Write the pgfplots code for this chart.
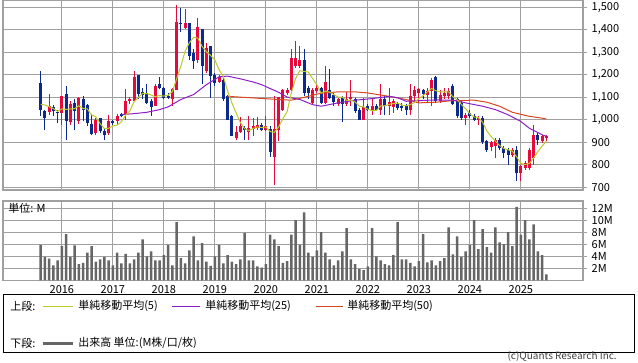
\documentclass[border=0pt]{standalone}
\usepackage{fontspec}
\setmainfont{Noto Sans CJK JP}
\usepackage{pgfplots}
\pgfplotsset{compat=1.18}
\usepackage{pgfplotstable}

\definecolor{upred}{RGB}{230,10,60}
\definecolor{downblue}{RGB}{12,42,140}
\definecolor{ma5col}{RGB}{190,200,40}
\definecolor{ma25col}{RGB}{140,30,200}
\definecolor{ma50col}{RGB}{215,70,30}
\definecolor{volgray}{RGB}{102,102,102}
\definecolor{gridgray}{RGB}{160,160,160}

\pgfplotstableread{
i O H L C
2 1033 1115 1022 1060
5 1030 1104 978 1104
7 988 1082 978 1072
9 993 1102 982 1097
13 941 1007 933 1000
16 943 1022 931 993
18 993 1025 978 1018
20 1022 1137 1000 1085
21 1085 1100 1070 1090
22 1085 1219 1082 1189
27 1063 1157 1060 1152
31 1093 1142 1060 1137
32 1134 1510 1131 1435
34 1410 1495 1405 1432
37 1265 1451 1254 1414
39 1216 1343 1209 1320
42 1167 1201 1164 1191
46 918 970 908 944
47 944 1012 941 970
49 945 1015 911 963
50 958 1007 926 973
51 963 1012 955 978
53 955 1015 948 973
55 836 1104 709 958
56 955 1100 903 1100
57 1045 1137 1037 1134
58 1119 1142 1112 1134
59 1134 1313 1127 1276
60 1239 1350 1231 1276
61 1239 1328 1231 1268
64 1075 1142 1072 1134
65 1127 1157 1119 1142
67 1075 1239 1072 1167
70 1072 1097 1060 1090
72 1072 1122 1063 1093
73 1090 1179 1063 1101
76 1000 1097 997 1057
78 1045 1093 1022 1063
80 1045 1157 1022 1093
82 1060 1142 1022 1078
83 1057 1090 1030 1082
87 1045 1157 1022 1104
88 1104 1149 1082 1134
89 1119 1142 1075 1137
91 1112 1140 1080 1130
92 1127 1186 1063 1179
94 1082 1134 1075 1112
95 1104 1142 1090 1119
96 1104 1142 1090 1127
100 1008 1030 978 1022
103 997 1015 975 1007
106 880 905 860 899
107 881 918 829 911
111 844 873 836 866
113 762 799 728 792
114 784 814 777 807
115 784 873 777 866
116 829 978 799 933
118 903 933 896 926
119 918 933 903 926
}\upcandles

\pgfplotstableread{
i O H L C
0 1164 1216 1015 1045
1 1040 1045 952 1008
3 1055 1067 1015 1037
4 1035 1045 985 1033
6 1115 1149 911 996
8 1075 1093 955 1040
10 1093 1104 993 1045
11 1067 1072 973 985
12 982 1025 933 936
14 1007 1007 940 948
15 951 958 908 933
17 993 1000 978 988
19 1027 1030 1012 1016
23 1197 1197 1090 1116
24 1122 1142 1090 1112
25 1119 1161 1072 1075
26 1082 1090 1015 1057
28 1157 1191 1137 1142
29 1142 1146 1090 1097
30 1107 1119 1090 1097
33 1432 1499 1391 1425
35 1429 1429 1264 1283
36 1298 1313 1224 1261
38 1402 1402 1157 1239
40 1328 1328 1097 1194
41 1201 1209 1149 1164
43 1179 1186 1082 1090
44 1104 1112 997 1000
45 1018 1022 926 929
48 963 970 911 956
52 978 985 948 955
54 958 973 836 854
62 1268 1313 1104 1119
63 1142 1149 1090 1119
66 1142 1145 1070 1075
68 1131 1224 1090 1097
69 1112 1119 1060 1078
71 1097 1104 990 1072
74 1093 1097 1030 1037
75 1045 1052 997 997
77 1063 1072 1037 1045
79 1063 1072 1037 1045
81 1090 1104 1022 1063
84 1072 1078 1045 1052
85 1063 1075 1037 1052
86 1060 1072 1022 1045
90 1134 1137 1090 1116
93 1191 1194 1075 1082
97 1152 1157 1067 1072
98 1090 1096 1007 1015
99 1075 1082 1000 1008
101 1030 1045 1007 1015
102 1018 1027 993 1000
104 1007 1015 893 899
105 903 911 858 866
108 911 918 866 873
109 876 881 829 851
110 866 873 799 844
112 866 881 728 762
117 933 941 888 911
}\downcandles

\pgfplotstableread{
i v
0 1068
1 1066
2 1058
3 1050
4 1037
5 1048
6 1046
7 1048
8 1049
9 1062
10 1050
11 1048
12 1021
13 1013
14 983
15 960
16 962
17 972
18 976
19 990
20 1020
21 1039
22 1080
23 1099
24 1118
25 1116
26 1110
27 1102
28 1108
29 1105
30 1109
31 1125
32 1182
33 1238
34 1305
35 1342
36 1367
37 1363
38 1326
39 1303
40 1286
41 1266
42 1222
43 1192
44 1128
45 1075
46 1031
47 987
48 960
49 952
50 961
51 968
52 965
53 968
54 947
55 944
56 968
57 1004
58 1036
59 1120
60 1184
61 1218
62 1215
63 1212
64 1183
65 1156
66 1118
67 1127
68 1123
69 1112
70 1101
71 1101
72 1086
73 1087
74 1079
75 1060
76 1057
77 1047
78 1040
79 1041
80 1061
81 1062
82 1068
83 1072
84 1074
85 1065
86 1062
87 1067
88 1077
89 1094
90 1107
91 1124
92 1139
93 1129
94 1124
95 1124
96 1124
97 1102
98 1089
99 1068
100 1049
101 1026
102 1012
103 1010
104 989
105 950
106 925
107 905
108 885
109 872
110 866
111 860
112 835
113 805
114 800
115 805
116 830
117 858
118 882
119 905
}\maf

\pgfplotstableread{
i v
19 1023
22 1027
25 1033
28 1045
30 1057
33 1090
36 1112
39 1156
42 1191
44 1194
47 1182
50 1168
52 1156
56 1122
58 1101
61 1090
64 1067
66 1060
70 1075
74 1087
78 1094
82 1104
84 1098
86 1082
89 1085
93 1088
97 1087
100 1075
104 1060
107 1045
110 1022
113 992
115 962
118 933
119 926
}\matf

\pgfplotstableread{
i v
44 1104
50 1097
56 1090
59 1087
61 1095
66 1118
70 1124
74 1124
77 1119
82 1104
86 1090
89 1075
93 1078
97 1085
102 1087
105 1078
108 1060
111 1033
115 1015
118 1007
119 1003
}\mafifty

\pgfplotstableread{
i v
0 5.9
1 3.9
2 3.6
3 2.5
4 3.3
5 5.7
6 7.7
7 3.9
8 5.8
9 2.7
10 2.9
11 4.6
12 5.7
13 3.1
14 3.5
15 3.9
16 3.3
17 2.5
18 4.6
19 2.8
20 4.4
21 2.8
22 3.5
23 4.6
24 6.8
25 4.0
26 4.8
27 3.3
28 3.3
29 4.2
30 5.9
31 2.5
32 9.7
33 3.7
34 2.8
35 5.0
36 7.3
37 3.3
38 6.2
39 3.1
40 2.4
41 4.0
42 5.9
43 2.8
44 4.2
45 3.1
46 2.7
47 3.5
48 7.9
49 3.3
50 3.3
51 2.3
52 2.1
53 2.7
54 7.6
55 6.8
56 5.7
57 2.9
58 3.2
59 7.6
60 10.0
61 5.9
62 11.3
63 4.6
64 3.9
65 5.0
66 8.0
67 4.6
68 3.5
69 2.5
70 3.3
71 4.8
72 8.7
73 3.5
74 2.7
75 1.9
76 1.7
77 2.3
78 8.7
79 4.0
80 3.3
81 2.7
82 2.5
83 4.2
84 9.7
85 3.5
86 3.5
87 2.9
88 2.3
89 3.2
90 7.7
91 3.0
92 3.3
93 2.5
94 3.2
95 3.7
96 8.8
97 4.3
98 7.3
99 3.9
100 4.8
101 5.9
102 10.0
103 5.2
104 8.5
105 5.5
106 4.6
107 8.8
108 6.3
109 6.0
110 8.0
111 5.7
112 12.2
113 7.6
114 10.0
115 6.8
116 9.3
117 4.8
118 4.2
119 1.0
}\vol

\pgfplotsset{
  panel/.style={
    scale only axis, width=435pt, anchor=south west,
    xmin=-8.85, xmax=127.62,
    xtick={5,17,29,41,53,65,77,89,101,113},
    grid=major,
    major grid style={draw=gridgray, line width=0.7pt},
    axis line style={draw=gridgray, line width=0.8pt},
    ytick pos=right,
    tick align=outside,
    xtick style={draw=none},
    ytick style={draw=gridgray, line width=0.7pt},
    major tick length=3pt,
    tick label style={font=\fontsize{8.25}{9.5}\selectfont, text=black},
    yticklabel style={anchor=west},
    /pgf/number format/assume math mode=true,
    /pgf/number format/1000 sep={,},
  },
  wick/.style={draw=none, mark=none, forget plot,
    error bars/.cd, y dir=both, y explicit, error mark=none,
    error bar style={draw=#1, line width=0.75pt, line cap=butt}},
  body/.style={draw=none, mark=none, forget plot,
    error bars/.cd, y dir=both, y explicit, error mark=none,
    error bar style={draw=#1, line width=2.3pt, line cap=butt}},
}

\begin{document}
\begin{tikzpicture}
\path[use as bounding box] (0,0) rectangle (478.5pt,271.5pt);

% price panel
\begin{axis}[panel, at={(2.25pt,129pt)}, height=142.5pt,
  ymin=687, ymax=1533, ytick={700,800,...,1500}, xticklabels={}]
\addplot[wick=upred] table[x=i, y expr={(\thisrow{H}+\thisrow{L})/2}, y error expr={(\thisrow{H}-\thisrow{L})/2}] {\upcandles};
\addplot[wick=downblue] table[x=i, y expr={(\thisrow{H}+\thisrow{L})/2}, y error expr={(\thisrow{H}-\thisrow{L})/2}] {\downcandles};
\addplot[body=upred] table[x=i, y expr={(\thisrow{O}+\thisrow{C})/2}, y error expr={max(abs(\thisrow{C}-\thisrow{O})/2,2.5)}] {\upcandles};
\addplot[body=downblue] table[x=i, y expr={(\thisrow{O}+\thisrow{C})/2}, y error expr={max(abs(\thisrow{C}-\thisrow{O})/2,2.5)}] {\downcandles};
\addplot[ma50col, line width=0.75pt, mark=none] table[x=i, y=v] {\mafifty};
\addplot[ma25col, line width=0.75pt, mark=none] table[x=i, y=v] {\matf};
\addplot[ma5col, line width=0.75pt, mark=none] table[x=i, y=v] {\maf};
\end{axis}

% volume panel
\begin{axis}[panel, at={(2.25pt,61.275pt)}, height=59.5pt,
  ymin=0, ymax=13.2, ytick={2,4,6,8,10,12},
  yticklabels={2M,4M,6M,8M,10M,12M},
  xticklabel style={yshift=2.5pt},
  xticklabels={2016,2017,2018,2019,2020,2021,2022,2023,2024,2025}]
\addplot[ybar, bar width=2.0pt, fill=volgray, draw=none] table[x=i, y=v] {\vol};
\end{axis}
\node[anchor=west, font=\fontsize{8.25}{9.5}\selectfont, inner sep=0pt] at (6pt,115.5pt) {単位: M};

% legend box
\draw[black, line width=0.75pt] (2.25pt,7.5pt) rectangle (475.5pt,51pt);
\begin{scope}[every node/.style={anchor=west, font=\fontsize{8.25}{9.5}\selectfont, inner sep=0pt}]
\node at (7.5pt,42pt) {上段:};
\draw[ma5col, line width=0.75pt] (32.25pt,42pt) -- (54.75pt,42pt);
\node at (58.5pt,42pt) {単純移動平均(5)};
\draw[ma25col, line width=0.75pt] (129pt,42pt) -- (150pt,42pt);
\node at (153.75pt,42pt) {単純移動平均(25)};
\draw[ma50col, line width=0.75pt] (237pt,42pt) -- (257.25pt,42pt);
\node at (260.25pt,42pt) {単純移動平均(50)};
\node at (7.5pt,14.25pt) {下段:};
\draw[volgray, line width=2.25pt] (32.25pt,14.25pt) -- (54.75pt,14.25pt);
\node at (58.5pt,14.25pt) {出来高 単位:(M株/口/枚)};
\end{scope}
\node[anchor=east, font=\fontsize{7.5}{8.5}\selectfont, text=black!75, inner sep=0pt] at (462.75pt,4.5pt) {(c)Quants Research Inc.};
\end{tikzpicture}
\end{document}
